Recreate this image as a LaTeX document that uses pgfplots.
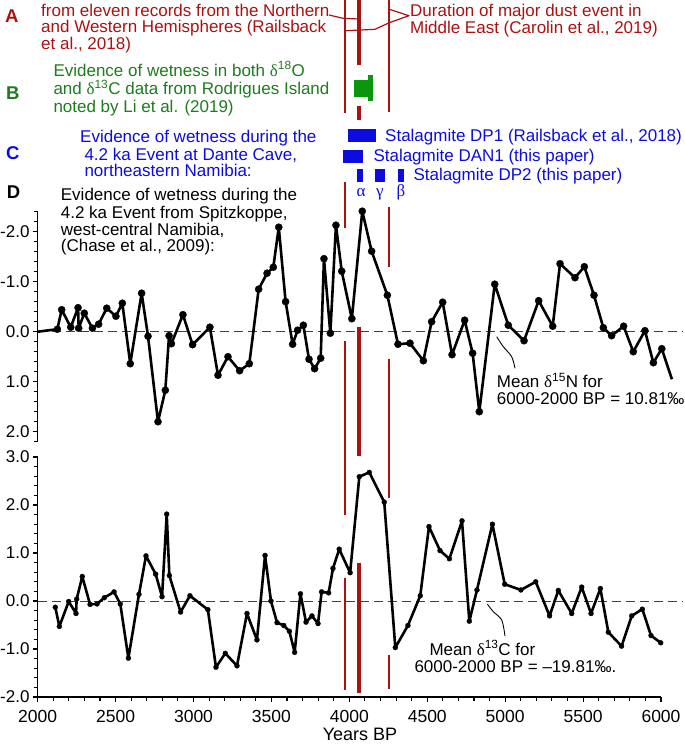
\documentclass[border=0pt]{standalone}
\usepackage{pgfplots}
\pgfplotsset{compat=1.18}
\usepackage{fontspec}
\setmainfont{Liberation Sans}
\newfontfamily\sym{Liberation Serif}

\definecolor{evred}{RGB}{170,18,18}
\definecolor{evgreen}{RGB}{28,125,28}
\definecolor{mkgreen}{RGB}{12,150,12}
\definecolor{evblue}{RGB}{12,12,225}

\newcommand{\txt}{\fontsize{17}{17}\selectfont}
\newcommand{\ticks}{\fontsize{17}{18}\selectfont}
\newcommand{\letterfont}{\fontsize{18.5}{19}\selectfont\bfseries}
\newcommand{\dl}{{\sym δ}}

\pgfplotsset{
  panel/.style={
    scale only axis, width=623.3pt,
    xmin=2000, xmax=6000,
    axis line style={-, line width=1.2pt},
    tick align=outside, major tick length=5pt, minor tick length=3.5pt,
    every tick/.style={black, line width=1.1pt},
    yticklabel style={font=\ticks, inner sep=0pt, anchor=east, xshift=-3pt},
    xticklabel style={font=\fontsize{17.5}{18}\selectfont, inner sep=0pt, anchor=north},
    clip=false,
  },
  series/.style={black, line width=2.6pt, line join=round, mark=*,
    mark options={solid, fill=black, draw=black, line width=0.3pt}},
  zeroline/.style={black!75, line width=1pt, dash pattern=on 9pt off 5pt, forget plot},
}

\begin{document}
\begin{tikzpicture}[x=1pt, y=-1pt]

% ---- time markers, dust-event span and wet intervals (x = years BP, y = rows from the top)
\begin{axis}[scale only axis, width=623.3pt, height=745pt,
  at={(37.7pt,-745pt)}, anchor=south west,
  xmin=2000, xmax=6000, ymin=0, ymax=745, y dir=reverse,
  hide axis, clip=false]
  % start and end of the dust event
  \addplot[evred, line width=2pt, unbounded coords=jump] coordinates {
    (3970,0) (3970,113) (3970,nan)
    (3970,181.7) (3970,228.3) (3970,nan)
    (3970,341) (3970,515) (3970,nan)
    (3970,578) (3970,690)};
  \addplot[evred, line width=2pt, unbounded coords=jump] coordinates {
    (4253,0) (4253,112) (4253,nan)
    (4253,206.7) (4253,266.7) (4253,nan)
    (4253,359) (4253,498) (4253,nan)
    (4253,655) (4253,689)};
  % mean timing of the 4.2 ka Event
  \addplot[evred, line width=4pt, unbounded coords=jump] coordinates {
    (4064,0) (4064,65) (4064,nan)
    (4064,106) (4064,120) (4064,nan)
    (4064,326.7) (4064,456) (4064,nan)
    (4064,563) (4064,693)};
  % Rodrigues Island
  \addplot[fill=mkgreen, draw=none] coordinates {(4030,80) (4120,80) (4120,96.7) (4030,96.7)};
  \addplot[fill=mkgreen, draw=none] coordinates {(4117,75) (4150,75) (4150,100.7) (4117,100.7)};
  % Dante Cave stalagmites
  \addplot[fill=evblue, draw=none] coordinates {(3993,129.3) (4169,129.3) (4169,141.7) (3993,141.7)};
  \addplot[fill=evblue, draw=none] coordinates {(3957,150) (4086,150) (4086,162.7) (3957,162.7)};
  \addplot[fill=evblue, draw=none] coordinates {(4047,169.3) (4089,169.3) (4089,182.3) (4047,182.3)};
  \addplot[fill=evblue, draw=none] coordinates {(4164,169.3) (4228,169.3) (4228,182.3) (4164,182.3)};
  \addplot[fill=evblue, draw=none] coordinates {(4314,169.3) (4351,169.3) (4351,182.3) (4314,182.3)};
\end{axis}

% ---- delta 15N anomaly (reversed scale)
\begin{axis}[panel, height=230pt,
  at={(37.7pt,-441.7pt)}, anchor=south west,
  ymin=-2.4, ymax=2.2, y dir=reverse,
  axis x line=none, axis y line*=left,
  ytick={-2,-1,0,1,2}, yticklabels={-2.0,-1.0,0.0,1.0,2.0},
  minor ytick={-2.4,-2.2,-1.8,-1.6,-1.4,-1.2,-0.8,-0.6,-0.4,-0.2,0.2,0.4,0.6,0.8,1.2,1.4,1.6,1.8,2.2},
]
  \addplot[zeroline] coordinates {(2000,0) (6140,0)};
  \addplot[series, mark size=3.6pt, mark phase=2] coordinates {
    (2000,0.00) (2126,-0.05) (2154,-0.44) (2212,-0.09) (2259,-0.48) (2263,-0.07)
    (2299,-0.37) (2351,-0.07) (2391,-0.15) (2443,-0.47) (2502,-0.31) (2543,-0.57)
    (2594,0.64) (2667,-0.77) (2708,0.09) (2772,1.80) (2819,1.17) (2843,0.08)
    (2858,0.24) (2932,-0.34) (2994,0.26) (3105,-0.09) (3157,0.87) (3221,0.50)
    (3296,0.78) (3358,0.64) (3418,-0.85) (3472,-1.17) (3512,-1.29) (3547,-2.09)
    (3591,-0.60) (3636,0.25) (3668,-0.03) (3705,-0.13) (3741,0.55) (3777,0.74)
    (3816,0.53) (3837,-1.46) (3878,0.03) (3914,-2.13) (3951,-1.21) (4016,-0.26)
    (4083,-2.41) (4143,-1.61) (4244,-0.73) (4312,0.25) (4389,0.23) (4475,0.58)
    (4528,-0.20) (4599,-0.59) (4659,0.46) (4740,-0.23) (4791,0.43) (4834,1.60)
    (4933,-0.95) (5020,-0.13) (5121,0.18) (5215,-0.62) (5305,-0.11) (5352,-1.36)
    (5448,-1.08) (5508,-1.30) (5570,-0.73) (5630,-0.08) (5683,0.08) (5760,-0.11)
    (5822,0.40) (5897,-0.02) (5951,0.62) (6005,0.34)};
  \addplot[black, line width=2.6pt, no marks] coordinates {(6005,0.34) (6070,0.95)};
\end{axis}

% ---- delta 13C anomaly
\begin{axis}[panel, height=240pt,
  at={(37.7pt,-697pt)}, anchor=south west,
  ymin=-2, ymax=3,
  axis x line*=bottom, axis y line*=left,
  xtick={2000,2500,3000,3500,4000,4500,5000,5500,6000},
  xticklabels={2000,2500,3000,3500,4000,4500,5000,5500,6000},
  minor xtick={2100,2200,2300,2400,2600,2700,2800,2900,3100,3200,3300,3400,
    3600,3700,3800,3900,4100,4200,4300,4400,4600,4700,4800,4900,
    5100,5200,5300,5400,5600,5700,5800,5900},
  ytick={-2,-1,0,1,2,3}, yticklabels={-2.0,-1.0,0.0,1.0,2.0,3.0},
  minor ytick={-1.8,-1.6,-1.4,-1.2,-0.8,-0.6,-0.4,-0.2,0.2,0.4,0.6,0.8,
    1.2,1.4,1.6,1.8,2.2,2.4,2.6,2.8},
  xticklabel style={yshift=-8.5pt},
]
  \addplot[zeroline] coordinates {(2000,0) (6140,0)};
  \addplot[series, mark size=2.5pt] coordinates {
    (2113,-0.13) (2139,-0.53) (2199,-0.01) (2246,-0.26) (2250,0.04) (2286,0.51)
    (2336,-0.07) (2381,-0.06) (2428,0.07) (2490,0.19) (2530,-0.06) (2582,-1.19)
    (2650,0.14) (2695,0.94) (2757,0.56) (2798,0.09) (2828,1.81) (2845,0.53)
    (2917,-0.23) (2977,0.11) (3092,-0.18) (3144,-1.38) (3204,-1.09) (3279,-1.35)
    (3343,-0.26) (3407,-0.81) (3459,0.95) (3497,0.00) (3536,-0.45) (3579,-0.51)
    (3615,-0.63) (3649,-1.07) (3686,0.15) (3722,-0.44) (3760,-0.31) (3799,-0.47)
    (3822,0.19) (3867,0.17) (3895,0.68) (3935,1.08) (4005,0.59) (4064,2.59)
    (4128,2.68) (4224,2.06) (4295,-0.97) (4376,-0.51) (4455,0.11) (4511,1.55)
    (4582,1.05) (4642,0.88) (4723,1.67) (4770,-0.42) (4819,0.23) (4918,1.60)
    (4997,0.35) (5101,0.23) (5196,0.40) (5285,-0.31) (5341,0.22) (5427,-0.26)
    (5491,0.29) (5551,-0.26) (5611,0.26) (5662,-0.65) (5747,-0.94) (5812,-0.31)
    (5880,-0.17) (5936,-0.72) (5998,-0.87)};
\end{axis}

\node[anchor=base, inner sep=0, font=\fontsize{18}{18}\selectfont] at (360,740) {Years BP};

% ---- panel letters
\node[anchor=base west, inner sep=0, text=evred]  at (5,22.7)  {\letterfont A};
\node[anchor=base west, inner sep=0, text=evgreen] at (6,99.3) {\letterfont B};
\node[anchor=base west, inner sep=0, text=evblue] at (6,159.3) {\letterfont C};
\node[anchor=base west, inner sep=0, text=black]  at (6.7,198.3) {\letterfont D};

% ---- A
\begin{scope}[every node/.style={anchor=base west, inner sep=0, text=evred, font=\txt}]
  \node at (41,16)   {from eleven records from the Northern};
  \node at (41,32.7) {and Western Hemispheres (Railsback};
  \node at (41,49.3) {et al., 2018)};
  \node at (410,16)   {Duration of major dust event in};
  \node at (410,33.3) {Middle East (Carolin et al., 2019)};
\end{scope}
\draw[evred, line width=1.2pt, line join=round] (329,15) -- (343,18.3) -- (359,19);
\draw[evred, line width=1.2pt, line join=round] (389.3,9.3) -- (409,15.7) -- (389.3,22.7) -- (375,29.3) -- (346,30.7);

% ---- B
\begin{scope}[every node/.style={anchor=base west, inner sep=0, text=evgreen, font=\txt}]
  \node at (53.3,76)    {Evidence of wetness in both \dl\textsuperscript{18}O};
  \node at (53.3,94.3)  {and \dl\textsuperscript{13}C data from Rodrigues Island};
  \node at (53.3,112.3) {noted by Li et al. (2019)};
\end{scope}

% ---- C
\begin{scope}[every node/.style={anchor=base west, inner sep=0, text=evblue, font=\txt}]
  \node at (80,142.3)   {Evidence of wetness during the};
  \node at (84.3,160)   {4.2 ka Event at Dante Cave,};
  \node at (84.3,176.7) {northeastern Namibia:};
  \node at (385,141.7)   {Stalagmite DP1 (Railsback et al., 2018)};
  \node at (373.3,161.7) {Stalagmite DAN1 (this paper)};
  \node at (413.3,180)   {Stalagmite DP2 (this paper)};
\end{scope}
\begin{scope}[every node/.style={anchor=base, inner sep=0, text=evblue, font=\fontsize{17}{17}\sym}]
  \node at (361,196.7) {α};
  \node at (380,196.7) {γ};
  \node at (401,196.7) {β};
\end{scope}

% ---- D
\begin{scope}[every node/.style={anchor=base west, inner sep=0, text=black, font=\txt}]
  \node at (60.7,200)   {Evidence of wetness during the};
  \node at (60.7,218.3) {4.2 ka Event from Spitzkoppe,};
  \node at (60.7,235)   {west-central Namibia,};
  \node at (60.7,251.7) {(Chase et al., 2009):};
\end{scope}

% ---- mean values used for the zero lines
\draw[black, line width=0.9pt] plot[smooth] coordinates {(496.7,336.7) (503.3,346.7) (511.7,356.7) (515,368.3)};
\node[anchor=base west, inner sep=0, font=\txt] at (496.7,387.3) {Mean \dl\textsuperscript{15}N for};
\node[anchor=base west, inner sep=0, font=\txt] at (496.7,404) {6000-2000 BP = 10.81‰};
\draw[black, line width=0.9pt] plot[smooth] coordinates {(487.3,604) (493.3,611.7) (501.7,620) (505,636)};
\node[anchor=base west, inner sep=0, font=\txt] at (429.3,655) {Mean \dl\textsuperscript{13}C for};
\node[anchor=base west, inner sep=0, font=\txt] at (414.3,672.7) {6000-2000 BP = –19.81‰.};

\pgfresetboundingbox
\path[use as bounding box] (0,0) rectangle (685,745);
\end{tikzpicture}
\end{document}
